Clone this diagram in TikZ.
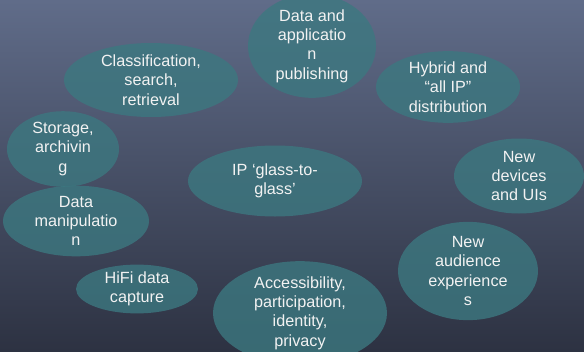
\documentclass[tikz,border=0pt]{standalone}
\usepackage{fontspec}
\setmainfont{Liberation Sans}
\usetikzlibrary{shapes.geometric}
\definecolor{bgtop}{RGB}{96,108,137}
\definecolor{bgbot}{RGB}{45,50,66}
\definecolor{blob}{RGB}{60,120,128}
\definecolor{txt}{RGB}{242,242,242}
\tikzset{
  blobnode/.style={ellipse, fill=blob, fill opacity=0.8, text opacity=1,
    inner sep=0pt, text=txt, align=center,
    font=\fontsize{16.2}{19.4}\selectfont}
}
\begin{document}
\begin{tikzpicture}[x=1pt,y=-1pt]
\useasboundingbox (0,0) rectangle (584,351);
\shade[top color=bgtop, bottom color=bgbot] (0,0) rectangle (584,351);
\node[blobnode, minimum width=128pt, minimum height=80pt] (pub) at (312,46) {Data and\\applicatio\\n\\publishing};
\node[blobnode, minimum width=174pt, minimum height=74pt] (cls) at (151,80) {Classification,\\search,\\retrieval};
\node[blobnode, minimum width=144pt, minimum height=70pt] (hyb) at (448,87) {Hybrid and\\“all IP”\\distribution};
\node[blobnode, minimum width=112pt, minimum height=55pt] (sto) at (63,149) {Storage,\\archivin\\g};
\node[blobnode, minimum width=174pt, minimum height=71pt] (ip) at (275,181) {IP ‘glass-to-\\glass’};
\node[blobnode, minimum width=130pt, minimum height=75pt] (dev) at (519,176) {New\\devices\\and UIs};
\node[blobnode, minimum width=146pt, minimum height=64pt] (man) at (76,221) {Data\\manipulatio\\n};
\node[blobnode, minimum width=140pt, minimum height=85pt] (aud) at (468,271) {New\\audience\\experience\\s};
\node[blobnode, minimum width=122pt, minimum height=48pt] (hifi) at (137,289) {HiFi data\\capture};
\node[blobnode, minimum width=174pt, minimum height=78pt] (acc) at (300,313) {Accessibility,\\participation,\\identity,\\privacy};
\end{tikzpicture}
\end{document}
